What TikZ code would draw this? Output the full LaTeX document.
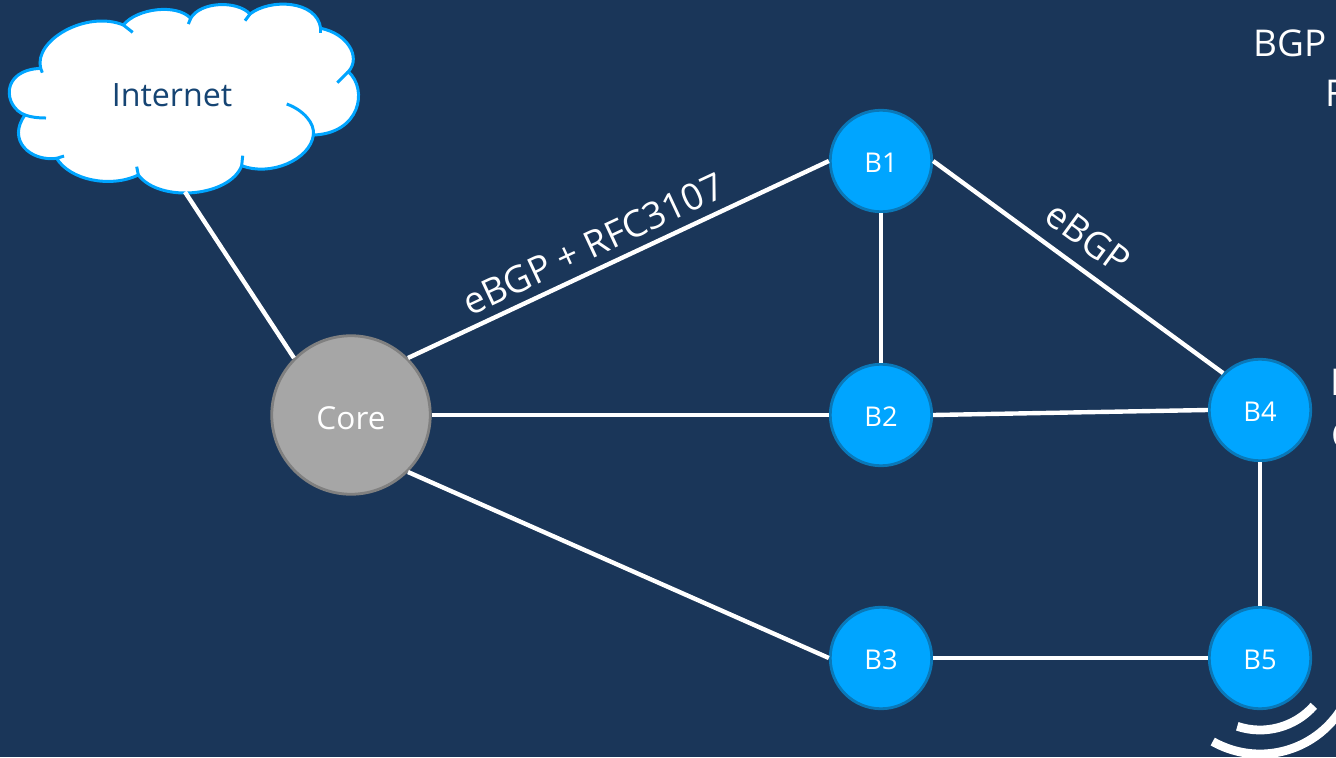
\documentclass[tikz,border=0pt]{standalone}
\usepackage{fontspec}
\setmainfont{Open Sans}
\usepackage{xcolor}
\usetikzlibrary{shapes.geometric, arrows}
\definecolor{bgblue}{HTML}{1A3659}
\definecolor{nodeblue}{HTML}{00A5FF}
\definecolor{nodeedge}{HTML}{0A78B8}
\definecolor{cloudtext}{HTML}{154473}
\tikzstyle{router} = [circle, minimum size=2.03cm, inner sep=0pt, text centered, text height=12.7pt, text depth=0pt, draw=nodeedge, line width=1.6pt, fill=nodeblue, text=white, font=\fontsize{15.5}{18}\selectfont]
\tikzstyle{corenode} = [circle, minimum size=3.17cm, inner sep=0pt, text centered, text height=16.3pt, text depth=0pt, draw=black!50, line width=1.6pt, fill=black!35, text=white, font=\fontsize{18}{22}\selectfont]
\tikzstyle{link} = [draw=white, line width=2.5pt]
\tikzstyle{linklabel} = [text=white, font=\fontsize{21}{25}\selectfont, inner sep=0pt]
\tikzstyle{sidetext} = [text=white, font=\fontsize{21}{25}\selectfont, inner sep=0pt, anchor=west]
\tikzstyle{cloudline} = [draw=nodeblue, line width=1.7pt]
\tikzstyle{wave} = [draw=white, line width=5pt]

\begin{document}
\begin{tikzpicture}[node distance=10.6cm]

	\fill [bgblue] (0,0) rectangle (26.72,15.14);
	\useasboundingbox (0,0) rectangle (26.72,15.14);

	% cloud, in units of a third of a pixel
	\begin{scope}[shift={(0,15.14)}, x=0.00667cm, y=-0.00667cm]
		\path [cloudline, fill=white] (122,205) .. controls (100,120) and (260,30) .. (370,75)
			.. controls (410,25) and (530,10) .. (572,55)
			.. controls (600,5) and (710,0) .. (750,42)
			.. controls (810,-5) and (950,0) .. (962,85)
			.. controls (1040,100) and (1085,170) .. (1045,215)
			.. controls (1105,270) and (1080,400) .. (940,405)
			.. controls (930,480) and (810,530) .. (725,497)
			.. controls (690,590) and (480,610) .. (415,525)
			.. controls (330,565) and (210,540) .. (170,475)
			.. controls (90,485) and (20,420) .. (75,345)
			.. controls (10,320) and (0,210) .. (122,205);
		\draw [cloudline] (370,75) -- (398,97);
		\draw [cloudline] (572,55) -- (565,72);
		\draw [cloudline] (750,42) -- (735,62);
		\draw [cloudline] (962,85) -- (962,98);
		\draw [cloudline] (1045,215) -- (1012,248);
		\draw [cloudline] (860,312) .. controls (910,330) and (945,370) .. (940,405);
		\draw [cloudline] (725,497) -- (728,467);
		\draw [cloudline] (415,525) -- (410,500);
		\draw [cloudline] (170,475) -- (192,468);
		\draw [cloudline] (75,345) .. controls (95,352) and (115,354) .. (138,354);
		\draw [cloudline] (122,205) -- (127,218);
	\end{scope}
	\node (internet) [text=cloudtext, font=\fontsize{18.3}{22}\selectfont] at (3.44,13.24) {Internet};
	\coordinate (cloudfoot) at (3.7,11.3);

	\node (core) [corenode] at (7.02,6.84) {Core};
	\node (b2) [router, right of = core] {B2};
	\node (b1) [router, above of = b2, node distance=5.08cm] {B1};
	\node (b3) [router, below of = b2, node distance=4.86cm] {B3};
	\node (b5) [router, right of = b3, node distance=7.58cm] {B5};
	\node (b4) [router, above of = b5, node distance=4.96cm] {B4};

	\draw [link] (cloudfoot) -- (core.135);
	\draw [link] (core.45) -- node [linklabel, pos=0.465, above, sloped, yshift=0.18cm] {eBGP + RFC3107} (b1.west);
	\draw [link] (core.east) -- (b2.west);
	\draw [link] (core.-45) -- (b3.west);
	\draw [link] (b1.south) -- (b2.north);
	\draw [link] (b1.east) -- node [linklabel, pos=0.475, above, sloped, yshift=0.28cm] {eBGP} (b4.135);
	\draw [link] (b2.east) -- (b4.west);
	\draw [link] (b4.south) -- (b5.north);
	\draw [link] (b3.east) -- (b5.west);

	\draw [wave] (b5.center) ++(251.6:1.44) arc [start angle=251.6, end angle=318.4, radius=1.44];
	\draw [wave] (b5.center) ++(240.5:1.92) arc [start angle=240.5, end angle=335, radius=1.92];

	\node (bgp) [sidetext] at (25.06,14.28) {BGP};
	\node (rline) [sidetext] at (26.5,13.28) {F};
	\node (iline) [sidetext] at (26.6,7.5) {I};
	\node (cline) [sidetext] at (26.62,6.44) {C};

\end{tikzpicture}
\end{document}
